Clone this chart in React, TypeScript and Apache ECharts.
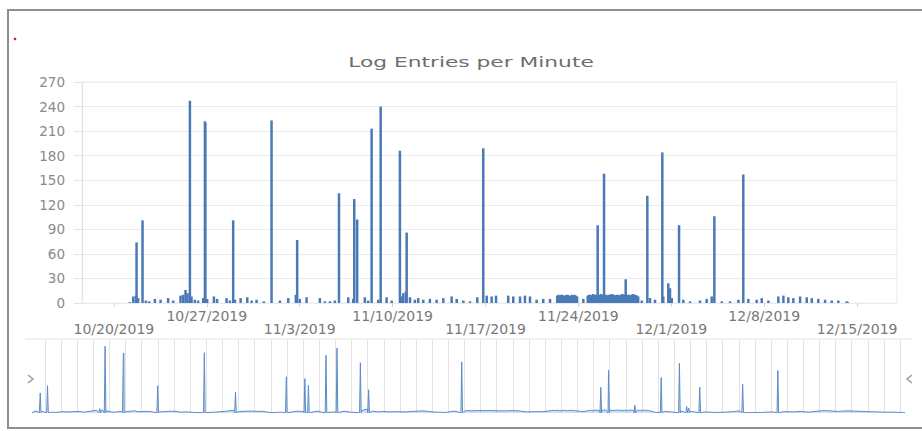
import React, { useEffect, useRef } from 'react';
import * as echarts from 'echarts';

// x values: days since 2019-10-20 00:00
const weekDays = [0, 7, 14, 21, 28, 35, 42, 49, 56];
const weekLabels = ['10/20/2019', '10/27/2019', '11/3/2019', '11/10/2019', '11/17/2019', '11/24/2019', '12/1/2019', '12/8/2019', '12/15/2019'];
const yTicks = [0, 30, 60, 90, 120, 150, 180, 210, 240, 270];

const spikeDays = [1.71, 2.16, 5.73, 6.86, 6.89, 8.99, 11.88, 13.81, 16.96, 18.11, 18.33, 19.42, 20.1, 21.55, 22.06, 27.83, 36.45, 36.93, 38.56, 40.19, 41.32, 41.77, 41.9, 42.58, 45.24, 47.42];
const spikeCounts = [74, 101, 247, 222, 220, 101, 223, 77, 134, 127, 102, 213, 240, 186, 86, 189, 95, 158, 29, 131, 184, 24, 18, 95, 106, 157];

const baseDays = [1.2, 1.46, 1.66, 1.83, 2.41, 2.66, 3.09, 3.52, 4.09, 4.47, 5.02, 5.22, 5.4, 5.55, 5.85, 6.1, 6.35, 6.73, 7.03, 7.54, 7.78, 8.49, 8.74, 9.12, 9.55, 10.05, 10.38, 10.75, 11.3, 12.51, 13.14, 13.71, 14.01, 14.52, 15.52, 15.9, 16.28, 16.65, 17.66, 18.03, 18.91, 19.16, 19.92, 20.55, 20.93, 21.62, 21.8, 22.0, 22.31, 22.68, 22.93, 23.31, 23.81, 24.32, 24.82, 25.45, 25.83, 26.33, 26.83, 27.38, 28.09, 28.46, 28.79, 29.71, 30.09, 30.6, 30.97, 31.35, 31.85, 32.35, 32.86, 35.37, 39.77, 40.39, 40.77, 41.39, 42.03, 42.9, 43.41, 44.16, 44.66, 45.04, 45.8, 46.42, 47.05, 47.8, 48.43, 48.81, 49.31, 50.06, 50.44, 50.81, 51.19, 51.7, 52.2, 52.58, 53.07, 53.58, 54.08, 54.58, 55.21, 55.3];
const baseCounts = [1, 8, 9, 6, 3, 2, 5, 4, 6, 3, 9, 10, 16, 12, 8, 4, 3, 6, 5, 8, 5, 6, 3, 4, 6, 7, 3, 4, 2, 3, 6, 10, 5, 7, 6, 2, 2, 3, 7, 5, 7, 3, 4, 7, 3, 8, 12, 14, 7, 4, 6, 4, 5, 4, 6, 8, 5, 3, 2, 7, 9, 8, 9, 9, 8, 8, 9, 8, 4, 5, 5, 5, 3, 6, 4, 8, 6, 4, 2, 3, 5, 8, 2, 2, 4, 5, 4, 6, 3, 8, 9, 7, 6, 8, 7, 6, 5, 4, 3, 3, 2, 1];

const bandDays = [33.4, 33.5, 33.6, 33.7, 33.8, 33.9, 34.0, 34.1, 34.2, 34.3, 34.4, 34.5, 34.6, 34.7, 34.8, 34.9,
  35.7, 35.8, 35.9, 36.0, 36.1, 36.2, 36.3, 36.4, 36.5, 36.6, 36.7, 36.8, 36.9, 37.0, 37.1, 37.2, 37.3, 37.4, 37.5, 37.6,
  37.7, 37.8, 37.9, 38.0, 38.1, 38.2, 38.3, 38.4, 38.5, 38.6, 38.7, 38.8, 38.9, 39.0, 39.1, 39.2, 39.3, 39.4, 39.5];
const bandCounts = [9, 10, 9, 10, 10, 8, 9, 10, 10, 9, 8, 10, 9, 10, 9, 8,
  9, 10, 10, 9, 11, 10, 10, 9, 10, 10, 11, 10, 9, 10, 10, 9, 10, 10, 11, 10,
  10, 9, 10, 10, 9, 10, 11, 10, 10, 9, 10, 10, 9, 10, 11, 10, 10, 9, 8];

export default function App() {
  const ref = useRef<HTMLDivElement>(null);
  useEffect(() => {
    document.body.style.margin = '0';
    const chart = echarts.init(ref.current!, null, { renderer: 'svg' });
    const pts: [number, number][] = [];
    spikeDays.forEach((d, i) => pts.push([d, spikeCounts[i]]));
    baseDays.forEach((d, i) => pts.push([d, baseCounts[i]]));
    bandDays.forEach((d, i) => pts.push([d, bandCounts[i]]));

    const nav: [number, number][] = [];
    pts.forEach(([d, v]) => {
      nav.push([d, v]);
      if (v > 15) {
        nav.push([d - 0.05, 1]);
        nav.push([d + 0.05, 1]);
      }
    });
    nav.sort((a, b) => a[0] - b[0]);
    const navDays: number[] = [];
    for (let d = 2; d <= 55; d++) navDays.push(d);

    const font = 'DejaVu Sans';
    chart.setOption({
      animation: false,
      backgroundColor: '#fff',
      grid: [
        { left: 82, right: 25, top: 82, height: 221, show: true, borderColor: '#ececec', borderWidth: 1 },
        { left: 32, right: 17, top: 340, height: 73 },
      ],
      xAxis: [
        {
          type: 'value', gridIndex: 0, min: -2.4, max: 59,
          axisLine: { show: false },
          splitLine: { show: false },
          axisTick: { show: true, customValues: weekDays, length: 4, lineStyle: { color: '#d5d5d5' } },
          axisLabel: {
            customValues: weekDays, margin: 6.5, fontSize: 14, lineHeight: 13, color: '#787878', fontFamily: font,
            formatter: (v: number) => {
              const i = Math.round(v / 7);
              const s = weekLabels[i] ?? '';
              return i % 2 === 0 ? '\n' + s : s;
            },
          },
        },
        {
          type: 'value', gridIndex: 1, min: 'dataMin', max: 'dataMax',
          axisLine: { show: false },
          axisLabel: { show: false },
          axisTick: { show: false, customValues: navDays },
          splitLine: { show: true, lineStyle: { color: '#e2e2e2', width: 1 } },
        },
      ],
      yAxis: [
        {
          type: 'value', gridIndex: 0, min: 0, max: 270, interval: 30,
          axisLine: { show: true, onZero: false, lineStyle: { color: '#e2e2e2' } },
          axisTick: { show: true, length: 8, lineStyle: { color: '#e2e2e2' } },
          splitLine: { lineStyle: { color: '#ebebeb' } },
          axisLabel: {
            margin: 17, fontSize: 13.5, color: '#8a8a8a', fontFamily: font,
            formatter: (v: number) => (yTicks.includes(v) ? String(v) : ''),
          },
        },
        { type: 'value', gridIndex: 1, min: 0, max: 270, show: false },
      ],
      series: [
        {
          type: 'bar', xAxisIndex: 0, yAxisIndex: 0, barWidth: 2.5,
          itemStyle: { color: '#4a7ab6' },
          data: pts,
        },
        {
          type: 'line', xAxisIndex: 1, yAxisIndex: 1, symbol: 'none',
          lineStyle: { color: '#5b8cc8', width: 1 },
          areaStyle: { color: 'rgba(120,165,222,0.5)' },
          data: nav,
        },
      ],
      graphic: [
        { type: 'rect', silent: true, z: 100, shape: { x: 8, y: 10, width: 940, height: 418 }, style: { fill: 'none', stroke: '#8e8e8e', lineWidth: 2 } },
        { type: 'circle', silent: true, shape: { cx: 15, cy: 39, r: 1.3 }, style: { fill: '#cc2222' } },
        {
          type: 'text', silent: true, x: 471, y: 62, scaleX: 1.5,
          style: { text: 'Log Entries per Minute', fill: '#6e6e6e', font: '14.5px "DejaVu Sans"', align: 'center', verticalAlign: 'middle' },
        },
        { type: 'line', silent: true, shape: { x1: 25, y1: 339, x2: 912, y2: 339 }, style: { stroke: '#e0e0e0', lineWidth: 1 } },
        { type: 'polyline', silent: true, shape: { points: [[28, 375], [33, 379], [28, 383]] }, style: { stroke: '#9a9a9a', lineWidth: 1.5, fill: 'none' } },
        { type: 'polyline', silent: true, shape: { points: [[912, 375], [907, 379], [912, 383]] }, style: { stroke: '#9a9a9a', lineWidth: 1.5, fill: 'none' } },
      ],
    });
    return () => chart.dispose();
  }, []);
  return <div ref={ref} style={{ position: 'fixed', left: 0, top: 0, width: 922, height: 431 }} />;
}
